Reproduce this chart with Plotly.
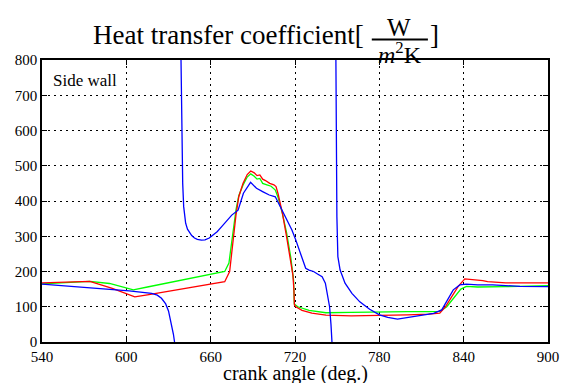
import plotly.graph_objects as go

# ---- data ----
red_x = [540, 560, 574, 590, 600, 606, 615, 630, 650, 660, 670, 673.5, 676, 678, 680, 683, 686, 688.5,
         691, 693, 695, 697, 699, 702, 705, 706.5, 708, 711, 714, 716.5, 718.5, 719.2, 719.6, 720.6,
         725, 732, 742, 760, 780, 800, 815, 823, 827, 830, 833, 836, 840.8, 846.6, 853.6, 857, 870, 885, 900]
red_y = [168, 170, 172, 152, 138, 128, 134, 144, 157, 164, 171, 200, 290, 360, 412, 450, 475, 485,
         480, 472, 474, 462, 458, 450, 446, 441, 420, 366, 299, 240, 190, 150, 105, 100,
         90, 82, 76, 74, 75, 77, 79, 82, 100, 119, 138, 157, 179, 177, 174, 171, 168, 168, 168]

green_x = [540, 560, 574, 588, 600, 605, 615, 630, 650, 660, 670, 673, 676, 678, 680, 683, 686, 688.5,
           691, 693, 695, 697, 700, 703, 706, 708, 711, 714, 717, 719, 719.5, 722, 730, 742, 760, 780,
           800, 815, 823, 828, 833, 838, 842, 850, 870, 900]
green_y = [165, 169, 172, 166, 154, 148, 156, 168, 184, 191, 200, 224, 320, 375, 415, 445, 468, 477,
           470, 462, 464, 450, 446, 442, 431, 410, 365, 310, 240, 175, 108, 100, 90, 83, 84, 86,
           86, 86, 87, 100, 125, 150, 158, 156, 157, 160]

# blue has two poles; None separates the branches
blue_x = [540, 560, 574, 590, 602, 618, 622, 625, 628, 630, 632, 633.5, 634.3, None,
          638.9, 639.3, 639.6, 640.1, 640.8, 642.2, 643.5, 645, 646.5, 648.5, 650.5, 653.4, 656, 659,
          661.5, 664.6, 668, 671.6, 675, 679.5, 681,
          683.3, 688.4, 692.6, 697.3, 701.7, 706, 709.4, 713.6, 717.8, 720.6, 724, 727.6, 730, 733.2,
          736, 739.3, 741.6, 743, 744.6, 745.6, 746.3, None,
          749.1, 749.4, 749.8, 750.5, 752.1, 755.6, 760.5, 766.1, 773.1, 780.1, 786, 792.9, 804.6,
          818.6, 824.4, 829, 832.6, 837.3, 841.7, 850, 860.6, 880, 900]
blue_y = [164, 158, 152, 148, 145, 138, 133, 124, 108, 88, 55, 22, 0, None,
          800, 650, 545, 450, 384, 337, 320, 309, 302, 295, 291, 289, 290, 295,
          302, 313, 328, 346, 360, 374, 393,
          422, 453, 436, 426, 417, 412, 384, 351, 318, 289, 252, 209, 204, 200,
          193, 185, 167, 138, 100, 50, 0, None,
          800, 545, 355, 242, 204, 167, 138, 114, 93, 77, 70, 65, 72,
          81, 91, 124, 148, 162, 164, 162, 162, 158, 157]

x_ticks = [540, 600, 660, 720, 780, 840, 900]
y_ticks = [0, 100, 200, 300, 400, 500, 600, 700, 800]

SERIF = "Liberation Serif"

fig = go.Figure()
fig.add_trace(go.Scatter(x=green_x, y=green_y, mode="lines", line=dict(color="#00ff00", width=1.3)))
fig.add_trace(go.Scatter(x=red_x, y=red_y, mode="lines", line=dict(color="#ff0000", width=1.3)))
fig.add_trace(go.Scatter(x=blue_x, y=blue_y, mode="lines", connectgaps=False,
                         line=dict(color="#0000ff", width=1.3)))

axis_common = dict(showline=True, linecolor="black", linewidth=1.5, mirror="ticks",
                   ticks="inside", ticklen=5, tickcolor="black",
                   showgrid=True, gridcolor="black", griddash="2px,4px", gridwidth=1,
                   zeroline=False, tickfont=dict(family=SERIF, size=15, color="black"))

fig.update_layout(
    width=571, height=383,
    margin=dict(l=42, r=15, t=60, b=41),
    paper_bgcolor="white", plot_bgcolor="white",
    showlegend=False,
    xaxis=dict(range=[540, 900], tickvals=x_ticks, ticktext=[str(v) for v in x_ticks], **axis_common),
    yaxis=dict(range=[0, 800], tickvals=y_ticks, ticktext=[str(v) for v in y_ticks], **axis_common),
)

def px_x(p):
    return (p - 42) / 514.0

def px_y(p):
    return (342 - p) / 282.0

ann = [
    dict(text="Heat transfer coefficient[", x=px_x(371), y=px_y(35), xanchor="right", yanchor="middle",
         font=dict(family=SERIF, size=27, color="black")),
    dict(text="W", x=px_x(405), y=px_y(27), xanchor="center", yanchor="middle",
         font=dict(family=SERIF, size=25, color="black")),
    dict(text="<i>m</i><sup>2</sup>K", x=px_x(406), y=px_y(53), xanchor="center", yanchor="middle",
         font=dict(family=SERIF, size=24, color="black")),
    dict(text="]", x=px_x(441), y=px_y(35), xanchor="center", yanchor="middle",
         font=dict(family=SERIF, size=27, color="black")),
    dict(text="Side wall", x=px_x(51), y=px_y(80), xanchor="left", yanchor="middle",
         font=dict(family=SERIF, size=17, color="black")),
    dict(text="crank angle (deg.)", x=0.5, y=px_y(373), xanchor="center", yanchor="middle",
         font=dict(family=SERIF, size=20, color="black")),
]
for a in ann:
    fig.add_annotation(xref="paper", yref="paper", showarrow=False, **a)

fig.add_shape(type="line", xref="paper", yref="paper", x0=px_x(377), x1=px_x(434),
              y0=px_y(39.5), y1=px_y(39.5), line=dict(color="black", width=2))

fig.write_html("out.html")
